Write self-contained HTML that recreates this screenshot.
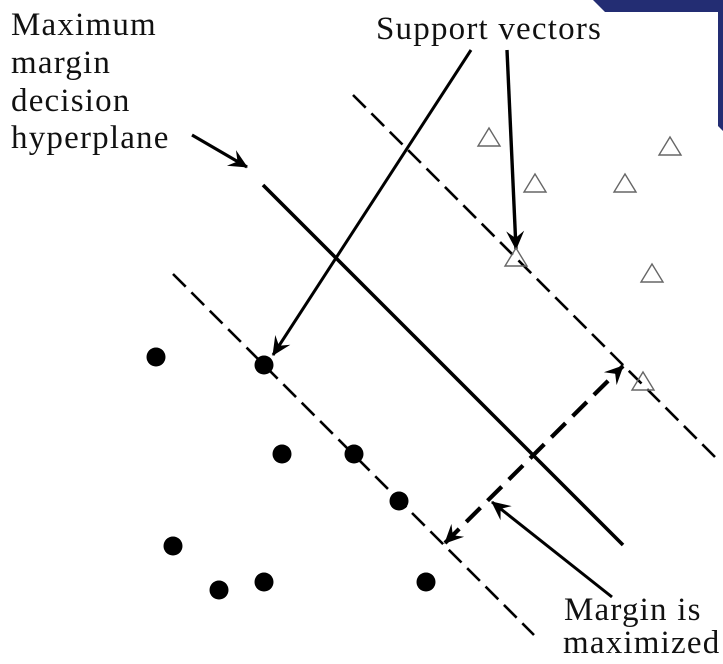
<!DOCTYPE html>
<html>
<head>
<meta charset="utf-8">
<style>
  html, body { margin: 0; padding: 0; background: #fff; }
  body { width: 723px; height: 664px; overflow: hidden; }
  svg { display: block; }
  text { font-family: "Liberation Serif", serif; font-size: 33px; fill: #111; letter-spacing: 1.2px; }
</style>
</head>
<body>
<svg width="723" height="664" viewBox="0 0 723 664" xmlns="http://www.w3.org/2000/svg">
  <defs>
    <marker id="ah" markerUnits="userSpaceOnUse" markerWidth="40" markerHeight="40" viewBox="-20 -20 40 40" refX="0" refY="0" orient="auto">
      <path d="M1,0 L-18,-9 L-11,0 L-18,9 Z" fill="#000" stroke="none"/>
    </marker>
    <marker id="ahs" markerUnits="userSpaceOnUse" markerWidth="40" markerHeight="40" viewBox="-20 -20 40 40" refX="0" refY="0" orient="auto-start-reverse">
      <path d="M1,0 L-18,-9 L-11,0 L-18,9 Z" fill="#000" stroke="none"/>
    </marker>
  </defs>

  <!-- navy corner decoration -->
  <polygon points="593,0 723,0 723,131 718,126 718,12 605,12" fill="#232d73"/>

  <!-- labels -->
  <text x="11" y="35">Maximum</text>
  <text x="11" y="73">margin</text>
  <text x="11" y="111">decision</text>
  <text x="11" y="148">hyperplane</text>
  <text x="376" y="39">Support vectors</text>
  <text x="564" y="620">Margin is</text>
  <text x="563" y="653">maximized</text>

  <!-- margin lines -->
  <line x1="353" y1="95" x2="715" y2="457" stroke="#000" stroke-width="2.6" stroke-dasharray="18,8"/>
  <line x1="173" y1="274" x2="534" y2="635" stroke="#000" stroke-width="2.6" stroke-dasharray="18,8"/>

  <!-- hyperplane -->
  <line x1="263" y1="185" x2="623" y2="545" stroke="#000" stroke-width="3.6"/>

  <!-- arrows -->
  <line x1="192" y1="135" x2="247" y2="167" stroke="#000" stroke-width="3.2" marker-end="url(#ah)"/>
  <line x1="471" y1="50" x2="273" y2="355" stroke="#000" stroke-width="3" marker-end="url(#ah)"/>
  <line x1="507" y1="50" x2="516" y2="249" stroke="#000" stroke-width="3.4" marker-end="url(#ah)"/>
  <line x1="612" y1="597" x2="492" y2="502" stroke="#000" stroke-width="3" marker-end="url(#ah)"/>
  <line x1="445" y1="543" x2="623" y2="366" stroke="#000" stroke-width="4.2" stroke-dasharray="20,10" marker-start="url(#ahs)" marker-end="url(#ah)"/>

  <!-- triangles -->
  <g fill="none" stroke="#666" stroke-width="1.4">
    <polygon points="489,128 500,146 478,146"/>
    <polygon points="535,174 546,192 524,192"/>
    <polygon points="625,174 636,192 614,192"/>
    <polygon points="670,137 681,155 659,155"/>
    <polygon points="516,248 527,266 505,266"/>
    <polygon points="652,264 663,282 641,282"/>
    <polygon points="643,372 654,390 632,390"/>
  </g>

  <!-- dots -->
  <g fill="#000">
    <circle cx="156" cy="357" r="9.5"/>
    <circle cx="264" cy="365" r="9.5"/>
    <circle cx="282" cy="454" r="9.5"/>
    <circle cx="354" cy="454" r="9.5"/>
    <circle cx="399" cy="501" r="9.5"/>
    <circle cx="173" cy="546" r="9.5"/>
    <circle cx="219" cy="590" r="9.5"/>
    <circle cx="264" cy="582" r="9.5"/>
    <circle cx="426" cy="582" r="9.5"/>
  </g>
</svg>
</body>
</html>
